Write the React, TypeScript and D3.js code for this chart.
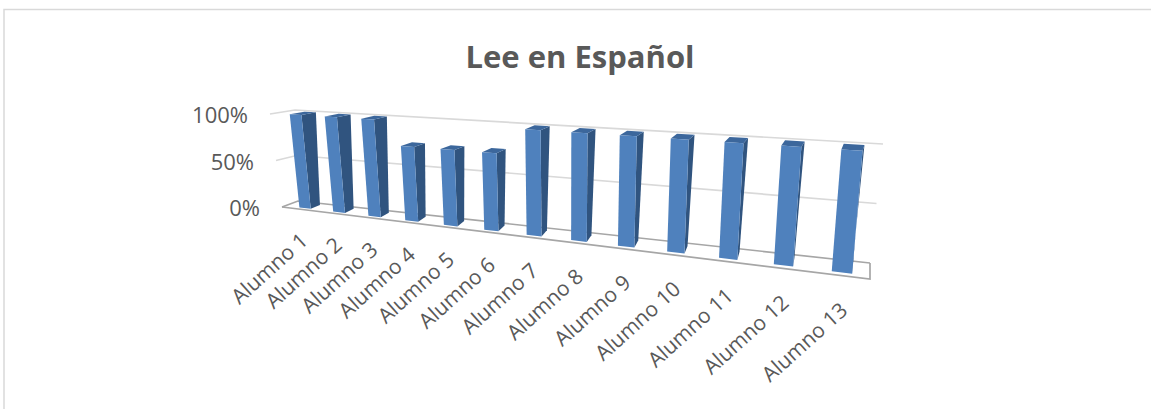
import React from "react";
import * as d3 from "d3";

const chartTitle = "Lee en Español";
const alumnos = ["Alumno 1","Alumno 2","Alumno 3","Alumno 4","Alumno 5","Alumno 6","Alumno 7","Alumno 8","Alumno 9","Alumno 10","Alumno 11","Alumno 12","Alumno 13"];
const porcentajes = [100,100,100,75,75,75,100,100,100,100,100,100,100];
const axisTicks = [0,50,100];

const WIDTH = 1151;
const HEIGHT = 409;

type P = [number, number];

// Corners of the 3D plot box on screen: f = front, b = back, l = left, r = right.
const floor = { fl: [282,207] as P, fr: [870,279] as P, bl: [298,201] as P, br: [870,263] as P };
const top = { fl: [270,114] as P, fr: [880.5,154] as P, bl: [295,110] as P, br: [883,144] as P };
const perspective = 1.38;
const barDepth: [number, number] = [0.2, 0.8];

const heightScale = d3.scaleLinear().domain([0,100]).range([0,1]);
const slot = d3.scaleBand<string>().domain(alumnos).range([0.008,1.003]).paddingInner(0.66).paddingOuter(0.33);

// Foreshortening along the category axis.
const foreshorten = (u: number) => u / (u + perspective * (1 - u));
const mix = (a: P, b: P, t: number): P => [a[0] + (b[0]-a[0]) * t, a[1] + (b[1]-a[1]) * t];

// Maps (along axis, depth, height) in the unit box to screen coordinates.
function project(u: number, depth: number, h: number): P {
  const t = foreshorten(u);
  const low = mix(mix(floor.fl, floor.fr, t), mix(floor.bl, floor.br, t), depth);
  const high = mix(mix(top.fl, top.fr, t), mix(top.bl, top.br, t), depth);
  return mix(low, high, h);
}

const polyPath = d3.line<P>().curve(d3.curveLinearClosed);
const segment = d3.line<P>();

const FRONT = "#4f81bd";
const SIDE = "#30547f";
const TOPFACE = "#3c679c";
const GRID = "#d9d9d9";
const EDGE = "#a6a6a6";
const TEXT = "#595959";
const FONT = "'Open Sans', sans-serif";

export default function App() {
  const [d0, d1] = barDepth;
  return (
    <svg width={WIDTH} height={HEIGHT} style={{ position: "fixed", left: 0, top: 0, background: "#fff" }}>
      <rect x={4} y={9.5} width={WIDTH} height={HEIGHT} fill="#fff" stroke={GRID} strokeWidth={1.5} />
      <text x={580} y={68} textAnchor="middle" fontFamily={FONT} fontWeight={700} fontSize={31} fill={TEXT}>{chartTitle}</text>

      {/* Walls and floor of the plot box */}
      {axisTicks.map((tick) => {
        const h = heightScale(tick);
        return (
          <path key={tick} fill="none" stroke={tick === 0 ? EDGE : GRID} strokeWidth={1.7}
            d={segment([project(0,0,h), project(0,1,h), project(1,1,h)]) ?? ""} />
        );
      })}
      <path fill="none" stroke={EDGE} strokeWidth={1.7}
        d={segment([project(0,0,0), project(1,0,0), project(1,1,0)]) ?? ""} />

      {axisTicks.map((tick) => {
        const [x, y] = project(0,0,heightScale(tick));
        return (
          <text key={tick} x={x - 22} y={y + 9} textAnchor="end" fontFamily={FONT} fontSize={22} fill={TEXT}>{tick}%</text>
        );
      })}

      {/* Columns, each drawn as side, top and front faces */}
      {alumnos.map((name, i) => {
        const u0 = slot(name) ?? 0;
        const u1 = u0 + slot.bandwidth();
        const h = heightScale(porcentajes[i]);
        const side: P[] = [project(u1,d0,0), project(u1,d1,0), project(u1,d1,h), project(u1,d0,h)];
        const cap: P[] = [project(u0,d0,h), project(u1,d0,h), project(u1,d1,h), project(u0,d1,h)];
        const front: P[] = [project(u0,d0,0), project(u1,d0,0), project(u1,d0,h), project(u0,d0,h)];
        return (
          <g key={name}>
            <path d={polyPath(side) ?? ""} fill={SIDE} />
            <path d={polyPath(cap) ?? ""} fill={TOPFACE} />
            <path d={polyPath(front) ?? ""} fill={FRONT} />
          </g>
        );
      })}

      {/* Category labels, drifting slightly further from the floor toward the near end */}
      {alumnos.map((name) => {
        const u = (slot(name) ?? 0) + slot.bandwidth() / 2;
        const [x, y] = project(u, 0.2, 0);
        return (
          <text key={name} transform={`translate(${x + 4 + 3 * u},${y + 34 + 6 * u}) rotate(-42)`} textAnchor="end"
            fontFamily={FONT} fontSize={21} fill={TEXT}>{name}</text>
        );
      })}
    </svg>
  );
}
